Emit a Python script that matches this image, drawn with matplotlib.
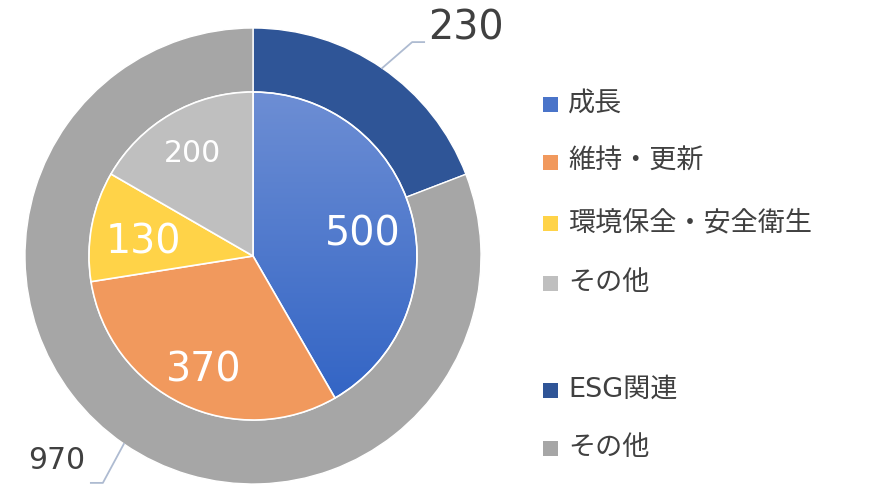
import matplotlib
matplotlib.use("Agg")
import matplotlib.pyplot as plt
import numpy as np
from matplotlib.colors import LinearSegmentedColormap

# DejaVu for digits / latin (close to the Verdana-style original), Noto for kanji
plt.rcParams["font.family"] = ["DejaVu Sans", "Noto Sans CJK JP"]

# data
inner_labels = ["成長", "維持・更新", "環境保全・安全衛生", "その他"]
inner_values = [500, 370, 130, 200]
inner_colors = ["#4A74C9", "#F1995D", "#FFD348", "#BFBFBF"]

outer_labels = ["ESG関連", "その他"]
outer_values = [230, 970]
outer_colors = ["#2F5597", "#A6A6A6"]

TEXT = "#404040"
LEADER = "#AEBBD1"

# layout (pixel units, y measured from bottom)
W, H = 869, 484
CX, CY = 253, 228
R_OUT = 228
RING_W = 64
R_IN = R_OUT - RING_W
inner_label_pos = [(363, 250), (204, 114), (143, 241), (192, 331)]
inner_label_size = [28.5, 28.5, 28.5, 21.5]

fig = plt.figure(figsize=(W / 100, H / 100), dpi=100)
ax = fig.add_axes([0, 0, 1, 1])

outer_wedges, _ = ax.pie(
    outer_values, colors=outer_colors, radius=R_OUT, center=(CX, CY),
    startangle=90, counterclock=False,
    wedgeprops=dict(width=RING_W, edgecolor="white", linewidth=1.0),
    frame=True,
)
inner_wedges, _ = ax.pie(
    inner_values, colors=inner_colors, radius=R_IN, center=(CX, CY),
    startangle=90, counterclock=False,
    wedgeprops=dict(edgecolor="white", linewidth=1.2),
    frame=True,
)

# vertical gradient on the first inner slice
cmap = LinearSegmentedColormap.from_list("blue", ["#6D8ED4", "#2F62C4"])
grad = np.linspace(0, 1, 256).reshape(-1, 1)
im = ax.imshow(grad, cmap=cmap, aspect="auto", origin="upper",
               extent=(CX - R_IN, CX + R_IN, CY - R_IN, CY + R_IN), zorder=0.5)
im.set_clip_path(inner_wedges[0])
inner_wedges[0].set_facecolor("none")

ax.set_xlim(0, W)
ax.set_ylim(0, H)
ax.set_aspect("equal")
ax.axis("off")

for val, (x, y), fs in zip(inner_values, inner_label_pos, inner_label_size):
    ax.text(x, y, str(val), color="white", fontsize=fs, ha="center", va="center")

# outer ring labels with leader lines
for w, val, side in zip(outer_wedges, outer_values, ["right", "left"]):
    mid = np.deg2rad((w.theta1 + w.theta2) / 2)
    x0 = CX + R_OUT * np.cos(mid)
    y0 = CY + R_OUT * np.sin(mid)
    if side == "right":
        x1, y1 = x0 + 30, y0 + 26
        x2 = x1 + 12
        ax.plot([x0, x1, x2], [y0, y1, y1], color=LEADER, lw=1.3)
        ax.text(x2 + 4, y1 + 14, str(val), color=TEXT, fontsize=28.5,
                ha="left", va="center")
    else:
        x1, y1 = x0 - 21, y0 - 39
        x2 = x1 - 12
        ax.plot([x0, x1, x2], [y0, y1, y1], color=LEADER, lw=1.3)
        ax.text(x2 - 6, y1 + 22, str(val), color=TEXT, fontsize=21.5,
                ha="right", va="center")

# legend
legend_labels = inner_labels + outer_labels
legend_colors = ["#4A74C9"] + inner_colors[1:] + outer_colors
legend_rows = [104, 162, 223, 283, 390, 448]
for lab, col, row in zip(legend_labels, legend_colors, legend_rows):
    y = H - row
    ax.add_patch(plt.Rectangle((543, y - 8), 15, 15, facecolor=col,
                               edgecolor="none", clip_on=False))
    ax.text(568, y, lab, color=TEXT, fontsize=19.5, ha="left", va="center")

fig.savefig("out.png", dpi=100, facecolor="white")
